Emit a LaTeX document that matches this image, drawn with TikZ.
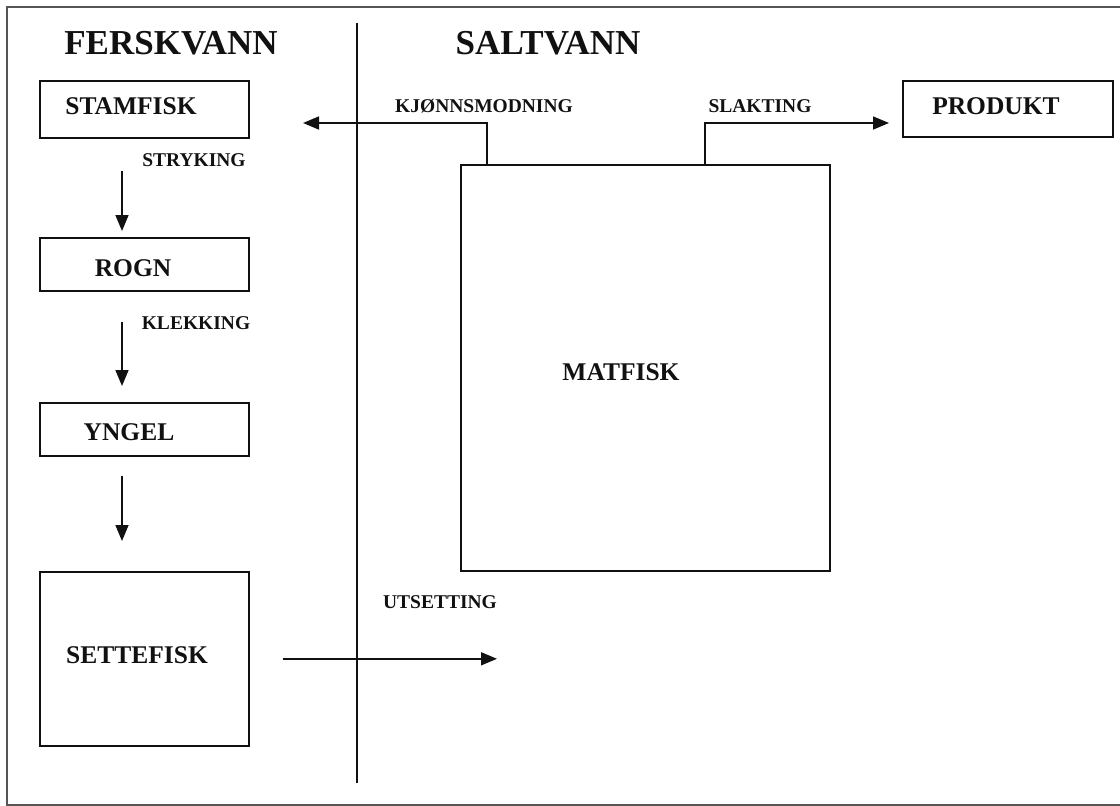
\documentclass[tikz,border=0pt]{standalone}
\usepackage{fontspec}
\setmainfont{Liberation Serif}
\usetikzlibrary{arrows.meta}
\definecolor{ink}{HTML}{111111}
\definecolor{framegray}{HTML}{555555}
\begin{document}
\begin{tikzpicture}[x=1pt,y=-1pt,
  box/.style={draw=ink, line width=1.6pt, rectangle, inner sep=0pt, anchor=north west},
  boxtxt/.style={font=\fontsize{25.5}{26}\selectfont\bfseries, text=ink, inner sep=0pt},
  small/.style={font=\fontsize{19.5}{20}\selectfont\bfseries, text=ink, inner sep=0pt},
  head/.style={font=\fontsize{35}{35}\selectfont\bfseries, text=ink, inner sep=0pt},
  arr/.style={draw=ink, line width=1.6pt, -{Triangle[length=16pt,width=13pt]}},
  plain/.style={draw=ink, line width=1.6pt}
]
\useasboundingbox (0,0) rectangle (1120,806);
% frame
\draw[framegray, line width=2pt] (1120,7) -- (7,7) -- (7,805) -- (1120,805);
% divider
\draw[plain] (357,23) -- (357,783);
% headings
\node[head] (fersk) at (171,43) {FERSKVANN};
\node[head] (salt) at (548,43) {SALTVANN};
% boxes
\node[box, minimum width=209pt, minimum height=57pt] (stamfisk) at (39,80) {};
\node[box, minimum width=209pt, minimum height=53pt] (rogn) at (39,237) {};
\node[box, minimum width=209pt, minimum height=53pt] (yngel) at (39,402) {};
\node[box, minimum width=209pt, minimum height=174pt] (settefisk) at (39,571) {};
\node[box, minimum width=369pt, minimum height=406pt] (matfisk) at (460,164) {};
\node[box, minimum width=210pt, minimum height=56pt] (produkt) at (902,80) {};
% box texts
\node[boxtxt] (stamfisk-t) at (131,106) {STAMFISK};
\node[boxtxt] (rogn-t) at (133,268) {ROGN};
\node[boxtxt] (yngel-t) at (129,432) {YNGEL};
\node[boxtxt] (settefisk-t) at (137,655) {SETTEFISK};
\node[boxtxt] (matfisk-t) at (621,372) {MATFISK};
\node[boxtxt] (produkt-t) at (996,106) {PRODUKT};
% labels
\node[small] (stryking) at (194,160) {STRYKING};
\node[small] (klekking) at (196,323) {KLEKKING};
\node[small] (kjonn) at (484,106) {KJØNNSMODNING};
\node[small] (slakting) at (760,106) {SLAKTING};
\node[small] (utsetting) at (440,602) {UTSETTING};
% free ends
\coordinate (kjtip) at (303,123);
\coordinate (sltip) at (889,123);
\coordinate (uttip) at (497,658);
% connectors
\draw[arr] ([xshift=83pt,yshift=-32pt]stamfisk.south west) -- ([xshift=83pt,yshift=6pt]rogn.north west);
\draw[arr] ([xshift=83pt,yshift=-30pt]rogn.south west) -- ([xshift=83pt,yshift=16pt]yngel.north west);
\draw[arr] ([xshift=83pt,yshift=-19pt]yngel.south west) -- ([xshift=83pt,yshift=30pt]settefisk.north west);
\draw[arr] ([xshift=27pt]matfisk.north west) |- (kjtip);
\draw[arr] ([xshift=245pt]matfisk.north west) |- (sltip);
\draw[arr] ([xshift=33pt]settefisk.east) -- (settefisk.east -| uttip);
\end{tikzpicture}
\end{document}
